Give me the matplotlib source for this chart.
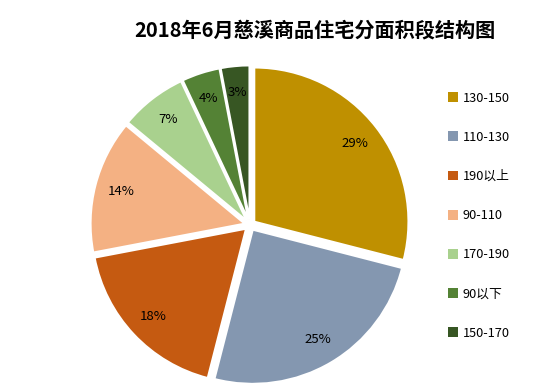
import matplotlib
matplotlib.use("Agg")
import matplotlib.pyplot as plt
from matplotlib.patches import Patch

plt.rcParams['font.family'] = ['Noto Sans CJK SC', 'DejaVu Sans']

labels = ["130-150", "110-130", "190以上", "90-110", "170-190", "90以下", "150-170"]
shares = [29, 25, 18, 14, 7, 4, 3]
colors = ["#BF9000", "#8497B0", "#C55A11", "#F4B183", "#A9D18E", "#548235", "#375623"]

fig = plt.figure(figsize=(5.6, 3.91), dpi=100)
ax = fig.add_axes([85 / 560, 1 / 391, 330 / 560, 330 / 391])

wedges, texts = ax.pie(shares, colors=colors, startangle=90, counterclock=False,
                       explode=[0.035] * len(shares),
                       labels=["%d%%" % s for s in shares], labeldistance=0.83,
                       wedgeprops=dict(edgecolor="white", linewidth=1.5))
for t in texts:
    t.set_fontsize(9.5)
    t.set_ha("center")
    t.set_va("center")
ax.set_xlim(-1.07, 1.07)
ax.set_ylim(-1.07, 1.07)
ax.set_aspect("equal")

fig.text(315 / 560, 1 - 30 / 391, "2018年6月慈溪商品住宅分面积段结构图",
         ha="center", va="center", fontsize=14.5, fontweight="bold")

handles = [Patch(facecolor=c, edgecolor="none") for c in colors]
fig.legend(handles, labels, loc="upper left", bbox_to_anchor=(436 / 560, 1 - 80 / 391),
           frameon=False, labelspacing=2.05, handlelength=0.8,
           handleheight=0.8, handletextpad=0.4,
           prop=dict(family=['Noto Sans CJK SC', 'DejaVu Sans'], weight="medium", size=9.2))

fig.savefig("out.png", dpi=100)
